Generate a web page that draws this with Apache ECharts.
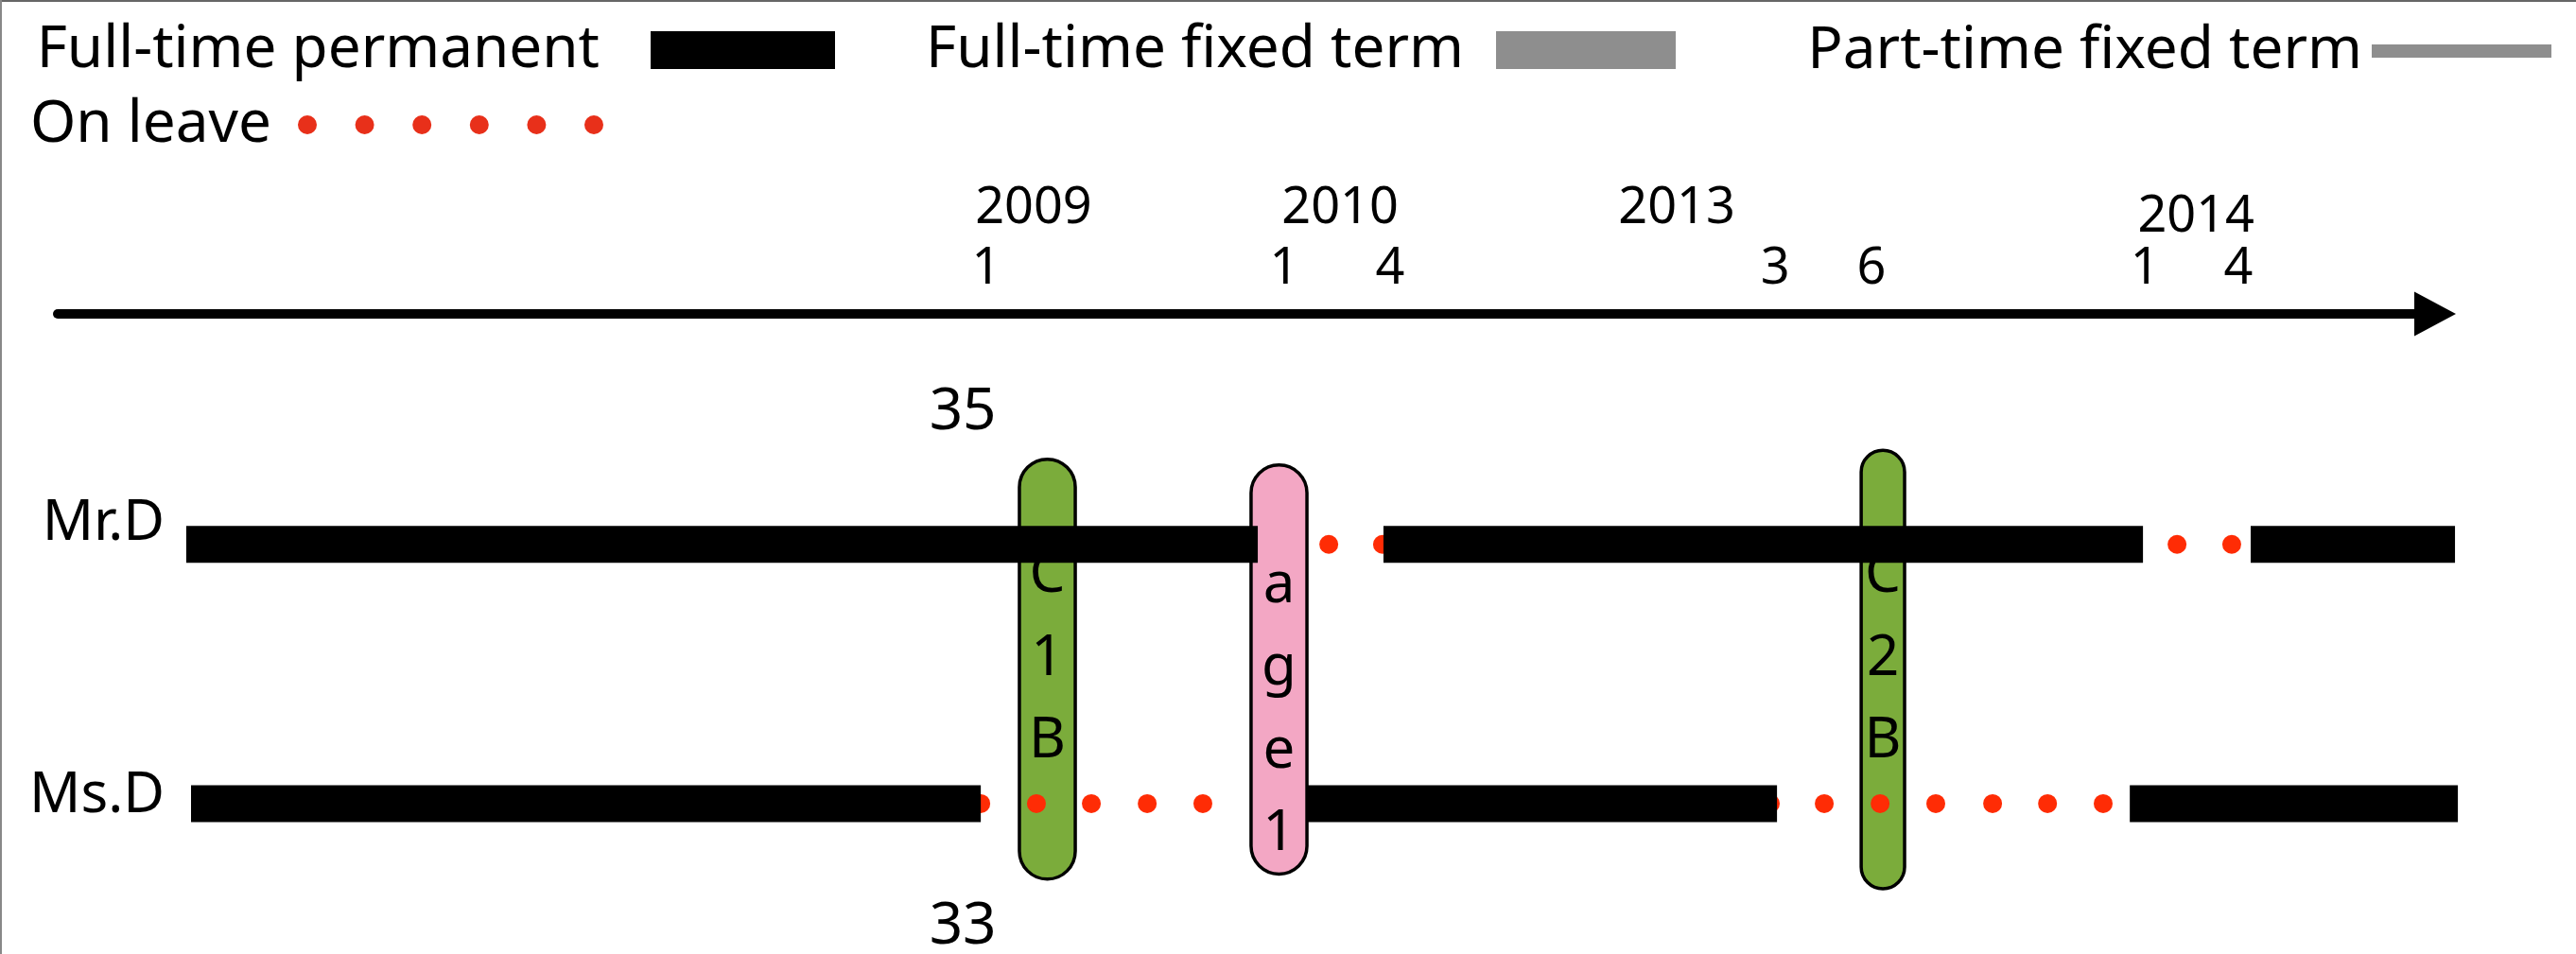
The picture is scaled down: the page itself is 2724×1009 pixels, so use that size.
<!DOCTYPE html>
<html>
<head>
<meta charset="utf-8">
<title>Employment timeline</title>
<script src="https://cdn.jsdelivr.net/npm/echarts@6/dist/echarts.min.js"></script>
<style>
  html, body { margin: 0; padding: 0; background: #fff; }
  #chart { width: 2724px; height: 1009px; }
</style>
</head>
<body>
<div id="chart"></div>
<script>
// x runs along the schematic timeline (0 = arrow tail, 1000 = arrow tip),
// y runs down from the arrow (0) to the bottom edge (100)
const monthTicks = [387.2, 511.4, 555.6, 716.1, 756.3, 870.3, 909.3]
const monthLabels = ['1', '1', '4', '3', '6', '1', '4']
const yearTicks = [406.9, 534.7, 675.1, 891.6]
const yearLabels = ['2009', '2010', '2013', '2014']

const people = ['Mr.D', 'Ms.D']
const rowY = [36, 76.5]
const nameX = [44.6, 44.6]
const nameY = [32.8, 75.3]

// [start, end, person]
const permanent = [
  [53.6, 500.4, 0], [552.8, 869.5, 0], [914.4, 999.6, 0],
  [55.6, 384.9, 1], [520.9, 716.9, 1], [864.0, 1000.8, 1]
]
// [position, person]
const leave = [
  [530.0, 0], [552.4, 0], [860.4, 0], [883.7, 0], [906.5, 0],
  [384.9, 1], [408.1, 1], [431.0, 1], [454.3, 1], [477.5, 1],
  [714.1, 1], [736.6, 1], [759.9, 1], [783.1, 1], [806.8, 1], [829.7, 1], [852.9, 1]
]

// [left, right, top, bottom]
const pills = [
  [401.0, 424.3, 22.7, 88.3],
  [497.6, 520.9, 23.6, 87.5],
  [752.0, 770.1, 21.3, 89.8]
]
const pillTexts = ['C1B', 'age1', 'C2B']
const pillTextY = [53.9, 61.9, 53.9]
const pillKinds = ['C', 'age', 'C']

const ages = ['35', '33']
const ageX = [377.4, 377.4]
const ageY = [15.4, 95.7]

const FONT = 'Noto Sans'
const pillColors = { C: '#7bac3b', age: '#f3a7c4' }
const leaveDotsIcon = 'path://' + [10, 70.6, 131.2, 191.8, 252.4, 313].map(cx =>
  'M' + (cx - 10) + ',10a10,10 0 1,0 20,0a10,10 0 1,0 -20,0Z').join('')

const chart = echarts.init(document.getElementById('chart'))

const legendText = (padRight, padBottom) => ({
  fontFamily: FONT, fontSize: 62, lineHeight: 62, color: '#000',
  padding: [0, padRight, padBottom, 0]
})

chart.setOption({
  backgroundColor: '#fff',
  animation: false,
  graphic: [
    { type: 'rect', left: 0, top: 0, shape: { width: 2724, height: 2 }, style: { fill: '#666' } },
    { type: 'rect', left: 0, top: 0, shape: { width: 2, height: 1009 }, style: { fill: '#888' } }
  ],
  legend: [
    {
      right: 1841, top: 14, padding: 0, align: 'right', selectedMode: false,
      itemWidth: 195, itemHeight: 40,
      data: [{ name: 'Full-time permanent', icon: 'rect', itemStyle: { color: '#000' } }],
      textStyle: legendText(49, 16)
    },
    {
      right: 952, top: 14, padding: 0, align: 'right', selectedMode: false,
      itemWidth: 190, itemHeight: 40,
      data: [{ name: 'Full-time fixed term', icon: 'rect', itemStyle: { color: '#8e8e8e' } }],
      textStyle: legendText(29, 16)
    },
    {
      right: 26, top: 14, padding: 0, align: 'right', selectedMode: false,
      itemWidth: 190, itemHeight: 14,
      data: [{ name: 'Part-time fixed term', icon: 'rect', itemStyle: { color: '#8e8e8e' } }],
      textStyle: legendText(5, 18)
    },
    {
      right: 2086, top: 89, padding: 0, align: 'right', selectedMode: false,
      itemWidth: 323, itemHeight: 20,
      data: [{ name: 'On leave', icon: leaveDotsIcon, itemStyle: { color: '#e8301a', opacity: 1 } }],
      textStyle: legendText(23, 24)
    }
  ],
  grid: [
    { left: 61, right: 149, top: 332, bottom: 0 },
    { left: 61, right: 149, top: 332, bottom: 0 }
  ],
  xAxis: [
    {
      type: 'value', gridIndex: 0, position: 'top', min: 0, max: 991.3,
      axisLine: {
        show: true,
        lineStyle: { color: '#000', width: 10 },
        symbol: ['none', 'triangle'],
        symbolSize: [47, 44]
      },
      axisTick: { show: false },
      splitLine: { show: false },
      axisLabel: {
        customValues: monthTicks,
        formatter: (v, i) => {
          const k = monthTicks.indexOf(v)
          return monthLabels[k >= 0 ? k : i]
        },
        margin: 20,
        fontFamily: FONT, fontSize: 54, lineHeight: 54, color: '#000'
      }
    },
    {
      type: 'value', gridIndex: 1, position: 'top', min: 0, max: 991.3,
      axisLine: { show: false },
      axisTick: { show: false },
      splitLine: { show: false },
      axisLabel: {
        customValues: yearTicks,
        formatter: (v, i) => {
          const k = yearTicks.indexOf(v)
          const label = yearLabels[k >= 0 ? k : i]
          return label === '2014' ? '{low|' + label + '}' : label
        },
        margin: 84,
        fontFamily: FONT, fontSize: 54, lineHeight: 54, color: '#000',
        rich: {
          low: { fontFamily: FONT, fontSize: 54, lineHeight: 36, color: '#000' }
        }
      }
    }
  ],
  yAxis: [
    { type: 'value', gridIndex: 0, inverse: true, min: 0, max: 100, show: false },
    { type: 'value', gridIndex: 1, inverse: true, min: 0, max: 100, show: false }
  ],
  series: [
    {
      name: 'pills',
      type: 'custom',
      z: 1,
      silent: true,
      data: pills,
      encode: { x: [0, 1], y: [2, 3] },
      renderItem(params, api) {
        const i = params.dataIndex
        const tl = api.coord([api.value(0), api.value(2)])
        const br = api.coord([api.value(1), api.value(3)])
        const mid = api.coord([(api.value(0) + api.value(1)) / 2, pillTextY[i]])
        const w = br[0] - tl[0]
        return {
          type: 'group',
          children: [
            {
              type: 'rect',
              shape: { x: tl[0], y: tl[1], width: w, height: br[1] - tl[1], r: w / 2 },
              style: { fill: pillColors[pillKinds[i]], stroke: '#000', lineWidth: 3.5 }
            },
            {
              type: 'text',
              x: mid[0],
              y: mid[1],
              style: {
                text: pillTexts[i].split('').join('\n'),
                font: '60px "' + FONT + '"',
                lineHeight: 87.5,
                align: 'center',
                verticalAlign: 'middle',
                fill: '#000'
              }
            }
          ]
        }
      }
    },
    {
      name: 'On leave',
      type: 'scatter',
      z: 2,
      silent: true,
      clip: false,
      symbol: 'circle',
      symbolSize: 20,
      itemStyle: { color: '#ff2c05', opacity: 1 },
      data: leave.map(d => [d[0], rowY[d[1]]])
    },
    {
      name: 'Full-time permanent',
      type: 'custom',
      z: 3,
      silent: true,
      data: permanent.map(d => [d[0], d[1], rowY[d[2]]]),
      encode: { x: [0, 1], y: 2 },
      itemStyle: { color: '#000' },
      renderItem(params, api) {
        const a = api.coord([api.value(0), api.value(2)])
        const b = api.coord([api.value(1), api.value(2)])
        return {
          type: 'rect',
          shape: { x: a[0], y: a[1] - 19.5, width: b[0] - a[0], height: 39 },
          style: { fill: '#000' }
        }
      }
    },
    {
      name: 'Full-time fixed term',
      type: 'custom',
      itemStyle: { color: '#8e8e8e' },
      data: [],
      renderItem: () => null
    },
    {
      name: 'Part-time fixed term',
      type: 'custom',
      itemStyle: { color: '#8e8e8e' },
      data: [],
      renderItem: () => null
    },
    {
      name: 'texts',
      type: 'custom',
      z: 4,
      silent: true,
      data: people.map((p, i) => [nameX[i], nameY[i]]).concat(ages.map((a, i) => [ageX[i], ageY[i]])),
      encode: { x: 0, y: 1 },
      renderItem(params, api) {
        const i = params.dataIndex
        const pt = api.coord([api.value(0), api.value(1)])
        const isName = i < people.length
        return {
          type: 'text',
          x: pt[0],
          y: pt[1],
          style: {
            text: isName ? people[i] : ages[i - people.length],
            font: (isName ? 60 : 62) + 'px "' + FONT + '"',
            align: isName ? 'right' : 'center',
            verticalAlign: 'middle',
            fill: '#000'
          }
        }
      }
    }
  ]
})
</script>
</body>
</html>
